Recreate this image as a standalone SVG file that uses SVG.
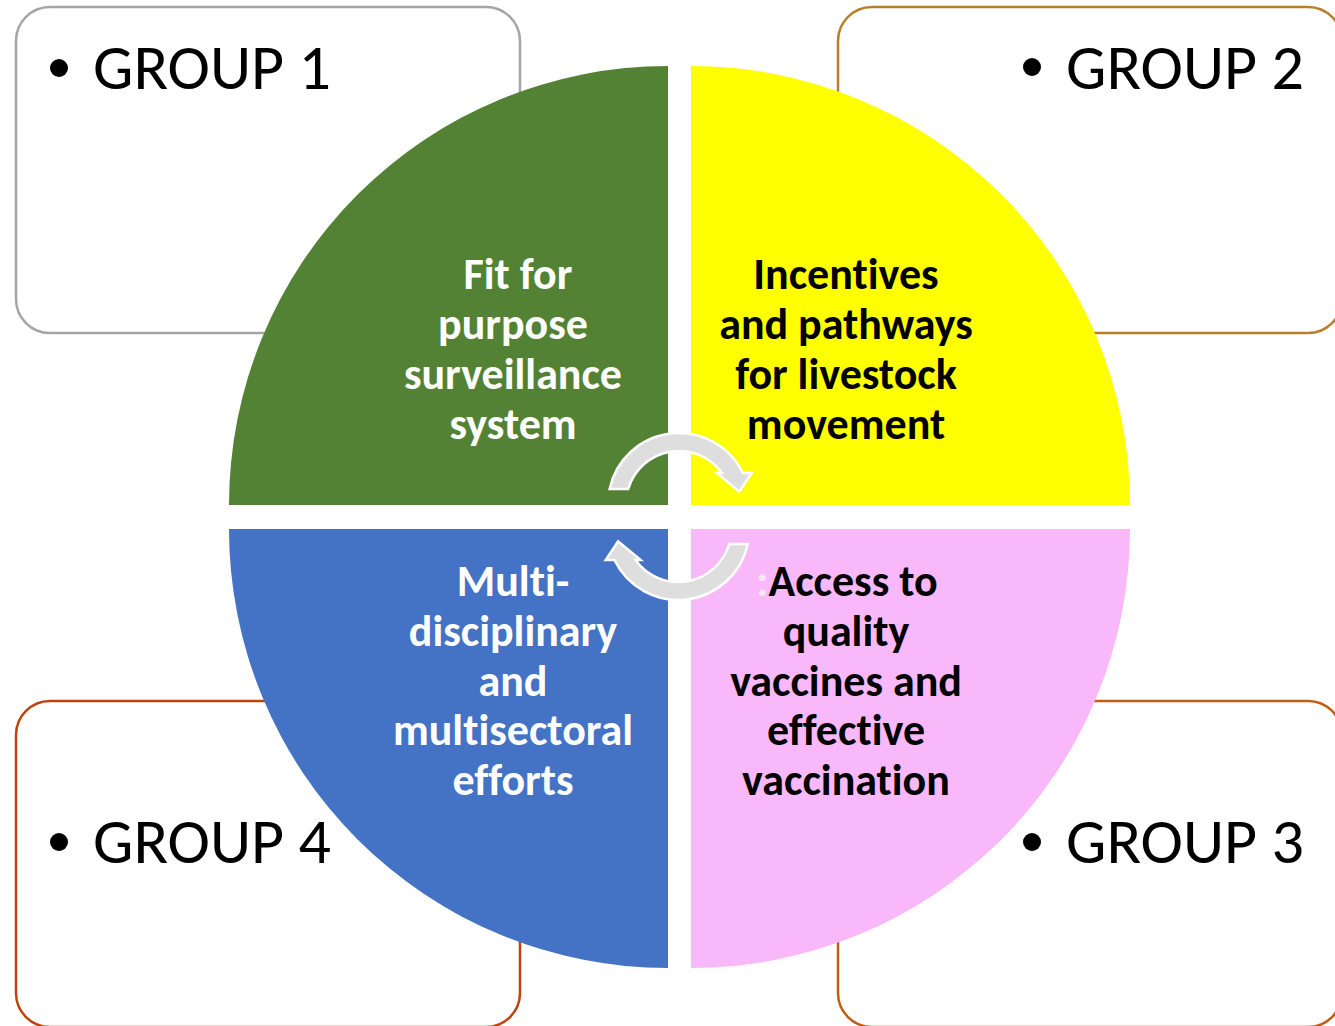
<svg xmlns="http://www.w3.org/2000/svg" width="1335" height="1026" viewBox="0 0 1335 1026">
<style>
.box{fill:#FFFFFF;stroke-width:2.5}
.grp{font-family:Carlito,Lato,"Liberation Sans",sans-serif;font-size:64px;fill:#000000;font-variant-ligatures:none}
.lbl{font-family:Carlito,Lato,"Liberation Sans",sans-serif;font-size:44px;font-weight:bold;text-anchor:middle;font-variant-ligatures:none}
.w{fill:#FFFFFF}
.k{fill:#000000}
.arr{fill:#DEDEDE;stroke:#FFFFFF;stroke-width:2.5;stroke-linejoin:miter}
</style>
<rect width="1335" height="1026" fill="#FFFFFF"/>
<g id="group1">
<rect class="box" x="16" y="7" width="504" height="326" rx="34" stroke="#A5A5A5"/>
<circle cx="59" cy="68" r="9"/>
<text class="grp" x="93" y="89">GROUP 1</text>
</g>
<g id="group2">
<rect class="box" x="838" y="7" width="504" height="326" rx="34" stroke="#B8802A"/>
<circle cx="1032" cy="67" r="9"/>
<text class="grp" x="1066" y="89">GROUP 2</text>
</g>
<g id="group3">
<rect class="box" x="838" y="701" width="504" height="326" rx="34" stroke="#BF5E14"/>
<circle cx="1032" cy="842" r="9"/>
<text class="grp" x="1066" y="863">GROUP 3</text>
</g>
<g id="group4">
<rect class="box" x="16" y="701" width="504" height="326" rx="34" stroke="#C0420E"/>
<circle cx="59" cy="842" r="9"/>
<text class="grp" x="93" y="863">GROUP 4</text>
</g>
<g id="q-surveillance">
<path d="M668 505 L229 505 A439 439 0 0 1 668 66 Z" fill="#548235"/>
<text class="lbl w"><tspan x="518" y="289">Fit for</tspan><tspan x="513" y="339">purpose</tspan><tspan x="513" y="389">surveillance</tspan><tspan x="513" y="439">system</tspan></text>
</g>
<g id="q-livestock">
<path d="M691 505 L691 66 A439 439 0 0 1 1130 505 Z" fill="#FFFF00"/>
<text class="lbl k"><tspan x="846" y="289">Incentives</tspan><tspan x="846" y="339">and pathways</tspan><tspan x="846" y="389">for livestock</tspan><tspan x="846" y="439">movement</tspan></text>
</g>
<g id="q-vaccines">
<path d="M691 529 L1130 529 A439 439 0 0 1 691 968 Z" fill="#F9B8F9"/>
<text class="lbl k"><tspan x="847" y="596"><tspan fill="#F6E9F6">:</tspan>Access to</tspan><tspan x="846" y="646">quality</tspan><tspan x="846" y="696">vaccines and</tspan><tspan x="846" y="745">effective</tspan><tspan x="846" y="795">vaccination</tspan></text>
</g>
<g id="q-multisectoral">
<path d="M668 529 L668 968 A439 439 0 0 1 229 529 Z" fill="#4472C4"/>
<text class="lbl w"><tspan x="513" y="596">Multi-</tspan><tspan x="513" y="646">disciplinary</tspan><tspan x="513" y="696">and</tspan><tspan x="513" y="745">multisectoral</tspan><tspan x="513" y="795">efforts</tspan></text>
</g>
<g id="connectors">
<path class="arr" d="M609.6 489 A71 71 0 0 1 742.9 473 L751.7 473 L739.3 491.7 L716.7 473 L722 473 A53 53 0 0 0 628.2 489 Z"/>
<path class="arr" transform="rotate(180 678.7 516.5)" d="M609.6 489 A71 71 0 0 1 742.9 473 L751.7 473 L739.3 491.7 L716.7 473 L722 473 A53 53 0 0 0 628.2 489 Z"/>
</g>
</svg>
